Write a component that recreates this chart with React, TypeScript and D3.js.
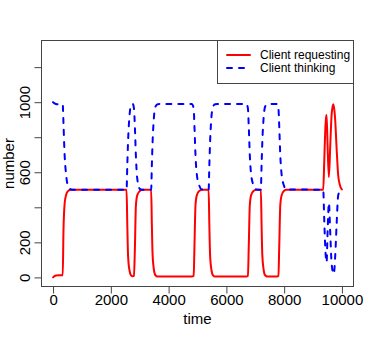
import React, { useEffect, useRef } from "react";
import * as d3 from "d3";

// simulation output
const time = [
  0, 40, 100, 200, 335, 360, 400, 450, 520, 620, 700,
  2544, 2570, 2595, 2640, 2700, 2760, 2800, 2835, 2866, 2913, 3003, 3080,
  3396, 3420, 3445, 3490, 3545, 3620, 3700, 4800, 4868, 4895, 4930, 4975, 5060, 5150,
  5385, 5410, 5435, 5480, 5537, 5610, 5700, 6690, 6745, 6775, 6810, 6855, 6940, 7030,
  7193, 7218, 7243, 7288, 7342, 7420, 7500, 7750, 7801, 7830, 7865, 7910, 7990, 8080,
  9352, 9387, 9420, 9450, 9468, 9502, 9548, 9596, 9642, 9697, 9720, 9766, 9815, 9870, 9931, 9990, 10000,
];
const requesting = [
  0, 6, 11, 12, 12, 260, 420, 470, 493, 500, 500,
  500, 300, 130, 45, 12, 6, 8, 180, 405, 468, 493, 500,
  500, 300, 130, 45, 12, 5, 5, 5, 8, 180, 410, 468, 493, 500,
  500, 300, 130, 45, 12, 5, 5, 5, 8, 180, 410, 468, 493, 500,
  500, 300, 130, 45, 12, 5, 5, 5, 8, 180, 410, 468, 493, 500,
  500, 660, 830, 910, 927, 755, 573, 755, 927, 988, 975, 900, 738, 583, 526, 503, 502,
];
const thinking = [
  1000, 995, 990, 988, 988, 880, 700, 590, 520, 502, 500,
  500, 640, 770, 910, 982, 990, 965, 850, 700, 566, 505, 500,
  500, 640, 770, 910, 975, 988, 990, 990, 965, 860, 700, 590, 525, 502,
  500, 640, 770, 910, 975, 988, 990, 990, 965, 860, 700, 590, 525, 502,
  500, 640, 770, 910, 975, 988, 990, 990, 965, 860, 700, 590, 525, 502,
  500, 330, 180, 100, 86, 250, 425, 250, 80, 25, 20, 120, 300, 468, 490, 500, 500,
];

const xTicks = [0, 2000, 4000, 6000, 8000, 10000];
const yTicks = [0, 200, 400, 600, 800, 1000, 1200];
const yLabelled = [0, 200, 600, 1000];
const seriesNames = ["Client requesting", "Client thinking"];

const width = 374;
const height = 337;
const font = "'Liberation Sans', Arial, Helvetica, sans-serif";

const App = () => {
  const xAxisRef = useRef<SVGGElement>(null);
  const yAxisRef = useRef<SVGGElement>(null);

  const margin = { top: 40.5, right: 20.5, bottom: 50.5, left: 41.5 };
  const left = margin.left;
  const right = width - margin.right;
  const top = margin.top;
  const bottom = height - margin.bottom;

  // R style: 4% padding on each side
  const xScale = d3.scaleLinear().domain([-400, 10400]).range([left, right]);
  const yScale = d3.scaleLinear().domain([-52, 1352]).range([bottom, top]);

  const line = (vals: number[]) =>
    d3
      .line<number>()
      .x((_, i) => xScale(time[i]))
      .y((d) => yScale(d))
      .curve(d3.curveMonotoneX)(vals) || "";

  useEffect(() => {
    const gx = d3.select(xAxisRef.current);
    gx.call(d3.axisBottom(xScale).tickValues(xTicks).tickSize(7).tickFormat(d3.format("d")));
    gx.select(".domain").remove();
    gx.selectAll("line").attr("stroke", "#444");
    gx.selectAll("text")
      .attr("y", 18.5)
      .attr("dy", 0)
      .attr("font-size", 15)
      .attr("font-family", font)
      .attr("fill", "#000");

    const gy = d3.select(yAxisRef.current);
    gy.call(
      d3
        .axisLeft(yScale)
        .tickValues(yTicks)
        .tickSize(7)
        .tickFormat((d) => (yLabelled.includes(+d) ? String(d) : ""))
    );
    gy.select(".domain").remove();
    gy.selectAll("line").attr("stroke", "#444");
    gy.selectAll("text")
      .attr("transform", "rotate(-90)")
      .attr("x", 0)
      .attr("y", -11.5)
      .attr("dy", 0)
      .attr("text-anchor", "middle")
      .attr("font-size", 15)
      .attr("font-family", font)
      .attr("fill", "#000");
  }, []);

  return (
    <svg
      width={width}
      height={height}
      style={{ position: "absolute", left: 0, top: 0, background: "#fff" }}
    >
      <path d={line(requesting)} fill="none" stroke="#ff0000" strokeWidth={2} strokeLinecap="round" strokeLinejoin="round" />
      <path
        d={line(thinking)}
        fill="none"
        stroke="#0000ff"
        strokeWidth={2}
        strokeDasharray="5 7"
        strokeLinecap="round"
      />
      <rect x={left} y={top} width={right - left} height={bottom - top} fill="none" stroke="#444" />
      <g ref={xAxisRef} transform={`translate(0, ${bottom})`} />
      <g ref={yAxisRef} transform={`translate(${left}, 0)`} />
      <text x={(left + right) / 2} y={324} textAnchor="middle" fontSize={15} fontFamily={font}>
        time
      </text>
      <text
        transform={`translate(13.5, ${(top + bottom) / 2}) rotate(-90)`}
        textAnchor="middle"
        fontSize={15}
        fontFamily={font}
      >
        number
      </text>
      <g>
        <rect x={217.5} y={top} width={right - 217.5} height={43} fill="#fff" stroke="#444" />
        {seriesNames.map((name, i) => (
          <g key={name} transform={`translate(0, ${55 + i * 13})`}>
            <line
              x1={227}
              x2={250}
              stroke={i === 0 ? "#ff0000" : "#0000ff"}
              strokeWidth={2}
              strokeDasharray={i === 0 ? undefined : "5 7"}
              strokeLinecap="round"
            />
            <text x={260} y={4.3} fontSize={12} fontFamily={font}>
              {name}
            </text>
          </g>
        ))}
      </g>
    </svg>
  );
};

export default App;
